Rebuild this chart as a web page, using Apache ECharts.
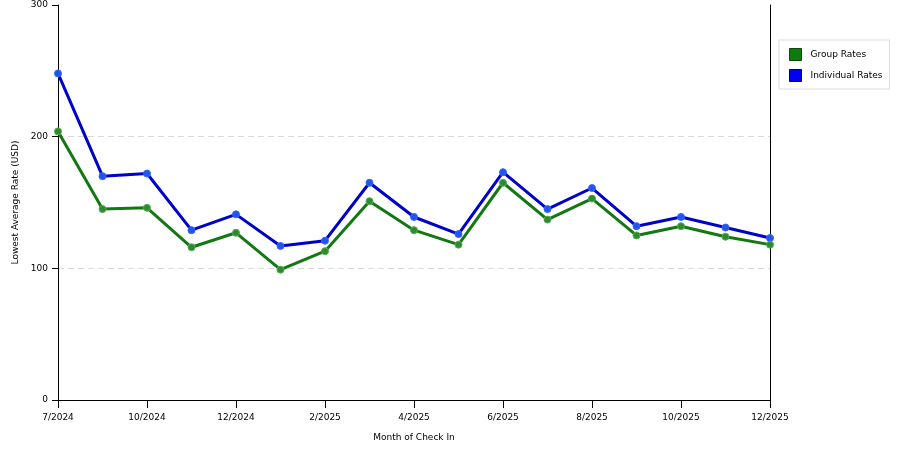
<!DOCTYPE html>
<html><head><meta charset="utf-8">
<script src="https://cdn.jsdelivr.net/npm/echarts@6/dist/echarts.min.js"></script>
<style>html,body{margin:0;padding:0;background:#fff}#c{width:900px;height:450px}</style>
</head><body><div id="c"></div>
<script>
const categories = ['7/2024','9/2024','10/2024','11/2024','12/2024','1/2025','2/2025','3/2025','4/2025','5/2025','6/2025','7/2025','8/2025','9/2025','10/2025','11/2025','12/2025'];
const groupRates = [204,145,146,116,127,99,113,151,129,118,165,137,153,125,132,124,118];
const individualRates = [248,170,172,129,141,117,121,165,139,126,173,145,161,132,139,131,123];
const yTicks = [0,100,200,300];

const font = 'DejaVu Sans';
const showX = function(i){return i===0 || (i>=2 && i%2===0);};
const chart = echarts.init(document.getElementById('c'));
chart.setOption({
  animation: false,
  backgroundColor: '#fff',
  grid: {left: 58, right: 130, top: 5, bottom: 50, containLabel: false},
  legend: {
    orient: 'vertical', left: 779, top: 40,
    padding: [8, 7, 7, 10], itemGap: 8,
    borderColor: '#dddddd', borderWidth: 1,
    itemWidth: 12, itemHeight: 12, icon: 'rect',
    textStyle: {fontFamily: font, fontSize: 9, color: '#000', padding: [0,0,0,4]},
    data: [
      {name: 'Group Rates', itemStyle: {color: '#0f7a0f', borderColor:'#0a4a0a', borderWidth:1}},
      {name: 'Individual Rates', itemStyle: {color: '#0000ee', borderColor:'#00007a', borderWidth:1}}
    ]
  },
  xAxis: {
    type: 'category', data: categories, boundaryGap: false,
    name: 'Month of Check In', nameLocation: 'middle', nameGap: 33,
    nameTextStyle: {fontFamily: font, fontSize: 9, color: '#000'},
    axisLine: {lineStyle: {color: '#000', width: 1}},
    axisTick: {show: true, interval: showX, length: 8, lineStyle:{color:'#000'}},
    axisLabel: {interval: showX, fontFamily: font, fontSize: 9, color: '#000', margin: 13},
    splitLine: {show: false}
  },
  yAxis: [{
    type: 'value', min: 0, max: 300, interval: 100,
    name: 'Lowest Average Rate (USD)', nameLocation: 'middle', nameGap: 36,
    nameTextStyle: {fontFamily: font, fontSize: 9, color: '#000'},
    axisLine: {show: true, lineStyle: {color: '#000'}},
    axisTick: {show: true, length: 6, lineStyle:{color:'#000'}},
    axisLabel: {fontFamily: font, fontSize: 9, color: '#000', margin: 10,
      formatter: function(v){return yTicks.indexOf(v)>=0 ? String(v) : '';}},
    splitLine: {show: true, lineStyle: {color: ['#d8d8d8','#d8d8d8','#d8d8d8','rgba(0,0,0,0)'], type: [6,4], width: 1}}
  },{
    type: 'value', min: 0, max: 300, interval: 100, position: 'right',
    axisLine: {show: true, lineStyle: {color: '#000'}},
    axisTick: {show: false}, axisLabel: {show: false}, splitLine: {show: false}
  }],
  series: [
    {
      name: 'Individual Rates', type: 'line', data: individualRates,
      symbol: 'circle', symbolSize: 7, z: 3,
      lineStyle: {color: '#0000cc', width: 3},
      itemStyle: {color: '#2255ee', borderColor: '#3366ff', borderWidth: 1}
    },
    {
      name: 'Group Rates', type: 'line', data: groupRates,
      symbol: 'circle', symbolSize: 7, z: 4,
      lineStyle: {color: '#137713', width: 3},
      itemStyle: {color: '#2e8a2e', borderColor: '#55aa55', borderWidth: 1}
    }
  ]
});
</script></body></html>
